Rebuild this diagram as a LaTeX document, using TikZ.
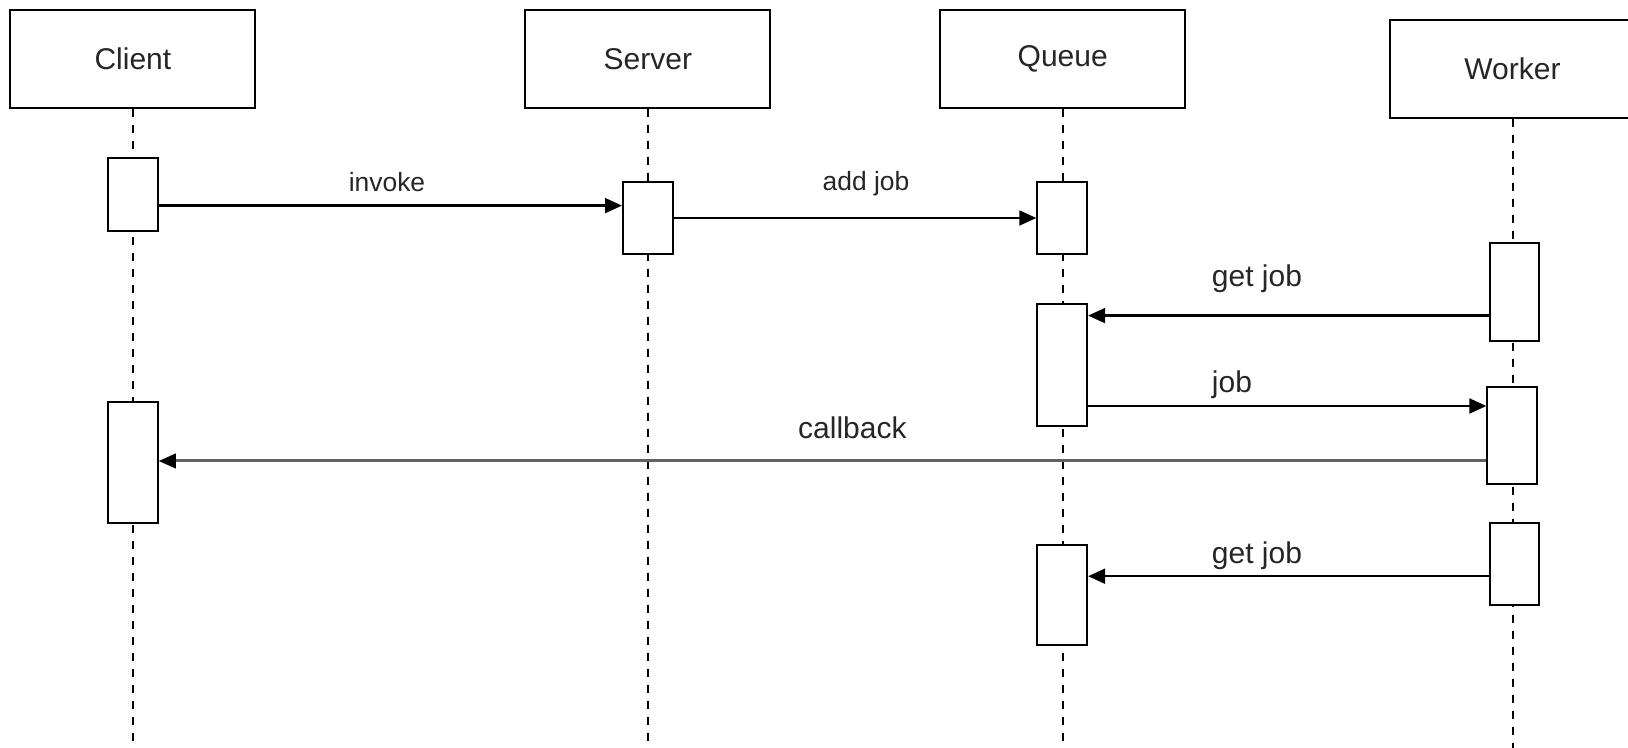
\documentclass[tikz,border=0pt]{standalone}
\usepackage{fontspec}
\setmainfont{Liberation Sans}
\usetikzlibrary{arrows.meta}

\tikzset{
  head/.style={draw, line width=1pt, fill=white, minimum width=122.5pt,
    minimum height=48.8pt, inner sep=0pt, font=\fontsize{15}{18}\selectfont,
    text=black!85},
  act/.style={draw, line width=1pt, fill=white, minimum width=24.9pt,
    inner sep=0pt},
  life/.style={line width=1pt, dash pattern=on 4pt off 4pt},
  msg/.style={line width=1.25pt, -{Triangle[length=8.5pt,width=7.4pt]}},
  lbl/.style={anchor=base, inner sep=0pt, text=black!85,
    font=\fontsize{15}{18}\selectfont},
  lblsmall/.style={lbl, font=\fontsize{13.2}{16}\selectfont},
}

\begin{document}
\begin{tikzpicture}[x=0.5pt, y=-0.5pt]
\path[use as bounding box] (0,0) rectangle (1628,748);
\clip (0,0) rectangle (1628,748);

% participants
\node[head] (client) at (132.9,59.2) {Client};
\node[head] (server) at (647.9,59.2) {Server};
\node[head] (queue)  at (1062.7,59.2) {Queue};
\node[head] (worker) at (1512.5,69.0) {Worker};

% lifeline ends
\coordinate (cend) at (132.9,750);
\coordinate (send) at (647.9,750);
\coordinate (qend) at (1062.2,750);
\coordinate (wend) at (1511.8,750);

\draw[life] (client.south) -- (client.south |- cend);
\draw[life] (server.south) -- (server.south |- send);
\draw[life] (queue.south)  -- (queue.south |- qend);
\draw[life] (worker.south) -- (worker.south |- wend);

% activations
\node[act, minimum height=36.35pt] (ca1) at (132.9,194.2) {};
\node[act, minimum height=36.35pt] (sa1) at (647.9,218.0) {};
\node[act, minimum height=36.35pt] (qa1) at (1062.2,218.0) {};
\node[act, minimum height=48.8pt]  (wa1) at (1514.4,291.8) {};
\node[act, minimum height=60.75pt] (qa2) at (1062.2,365.0) {};
\node[act, minimum height=48.25pt] (wa2) at (1512.3,435.6) {};
\node[act, minimum height=60.75pt] (ca2) at (132.9,462.6) {};
\node[act, minimum height=41pt]    (wa3) at (1514.4,564.3) {};
\node[act, minimum height=49.85pt] (qa3) at (1062.2,595.0) {};

% message rows
\coordinate (r1) at (0,205.6);
\coordinate (r2) at (0,218.0);
\coordinate (r3) at (0,315.6);
\coordinate (r4) at (0,406.0);
\coordinate (r5) at (0,461.0);
\coordinate (r6) at (0,576.2);

% messages
\draw[msg] (ca1.east |- r1) -- (sa1.west |- r1);
\draw[msg] (sa1.east |- r2) -- (qa1.west |- r2);
\draw[msg] (wa1.west |- r3) -- (qa2.east |- r3);
\draw[msg] (qa2.east |- r4) -- (wa2.west |- r4);
\draw[draw=black!62, line width=1.5pt,
  -{Triangle[length=8.5pt,width=7.4pt,color=black,line width=0.6pt]}]
  (wa2.west |- r5) -- (ca2.east |- r5);
\draw[msg] (wa3.west |- r6) -- (qa3.east |- r6);

% message labels
\node[lblsmall] (linvoke) at (387,192) {invoke};
\node[lblsmall] (laddjob) at (866,191) {add job};
\node[lbl] (lget1) at (1257,287) {get job};
\node[lbl] (ljob) at (1232,392.5) {job};
\node[lbl] (lcallback) at (852.4,439) {callback};
\node[lbl] (lget2) at (1257,563) {get job};
\end{tikzpicture}
\end{document}
